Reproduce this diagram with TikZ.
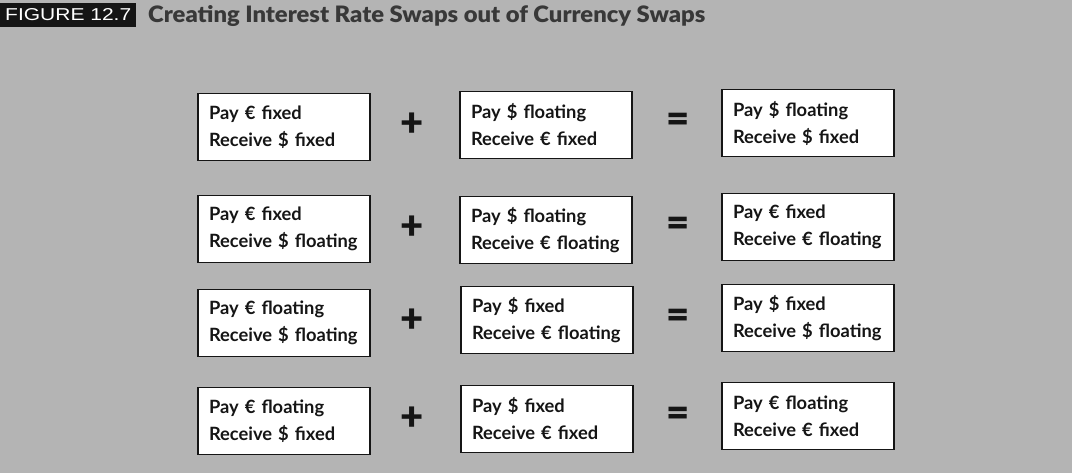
\documentclass[tikz,border=0pt]{standalone}
\usepackage{fontspec}
\setmainfont{Lato}
\newfontfamily\headfont{Liberation Sans}
\newfontfamily\heavyfont{Lato}[UprightFont=* Black, BoldFont=* Black]
\usepackage{graphicx}
\definecolor{paper}{HTML}{B4B4B4}
\definecolor{ink}{HTML}{151515}
\begin{document}
\begin{tikzpicture}[x=1pt,y=-1pt,
  swapbox/.style={draw=ink, line width=1.8pt, fill=white, minimum width=172pt, minimum height=67pt,
    text width=150pt, align=left, inner sep=0pt, font=\bfseries\fontsize{18.3}{27}\selectfont, text=ink},
  opsign/.style={font=\heavyfont\fontsize{40}{40}\selectfont, text=ink, inner sep=0pt}]
\useasboundingbox (0,0) rectangle (1072,473);
\fill[paper] (0,0) rectangle (1072,473);
\node[fill=ink, text=white, anchor=west, inner xsep=5pt, minimum height=24pt, font=\headfont\fontsize{15}{15}\selectfont] (fig) at (0,15) {\resizebox{126pt}{12pt}{FIGURE 12.7}};
\node[anchor=west, text=ink!85, inner sep=0pt, font=\heavyfont\fontsize{20}{20}\selectfont] (title) at (148,16) {\resizebox{557pt}{17pt}{Creating Interest Rate Swaps out of Currency Swaps}};

% row 1
\node[swapbox] (a1) at (284,127) {Pay € fixed\\Receive \$ fixed};
\node[swapbox] (b1) at (546,125) {Pay \$ floating\\Receive € fixed};
\node[swapbox] (c1) at (808,123) {Pay \$ floating\\Receive \$ fixed};
\node[opsign] (p1) at (412,125) {+};
\node[opsign] (e1) at (678,123) {=};
% row 2
\node[swapbox] (a2) at (284,229) {Pay € fixed\\Receive \$ floating};
\node[swapbox] (b2) at (546,230) {Pay \$ floating\\Receive € floating};
\node[swapbox] (c2) at (808,227) {Pay € fixed\\Receive € floating};
\node[opsign] (p2) at (412,228) {+};
\node[opsign] (e2) at (678,227) {=};
% row 3
\node[swapbox] (a3) at (284,323) {Pay € floating\\Receive \$ floating};
\node[swapbox] (b3) at (547,320) {Pay \$ fixed\\Receive € floating};
\node[swapbox] (c3) at (808,318) {Pay \$ fixed\\Receive \$ floating};
\node[opsign] (p3) at (412,321) {+};
\node[opsign] (e3) at (678,319) {=};
% row 4
\node[swapbox] (a4) at (284,421) {Pay € floating\\Receive \$ fixed};
\node[swapbox] (b4) at (547,419) {Pay \$ fixed\\Receive € fixed};
\node[swapbox] (c4) at (808,416) {Pay € floating\\Receive € fixed};
\node[opsign] (p4) at (412,419) {+};
\node[opsign] (e4) at (678,417) {=};
\end{tikzpicture}
\end{document}
